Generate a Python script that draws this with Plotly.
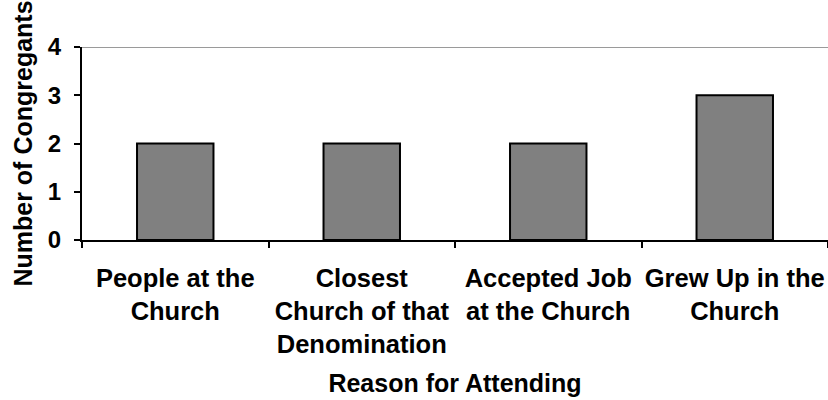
import plotly.graph_objects as go

# Survey responses: why congregants attend
reasons = [
    "People at the<br>Church",
    "Closest<br>Church of that<br>Denomination",
    "Accepted Job<br>at the Church",
    "Grew Up in the<br>Church",
]
congregants = [2, 2, 2, 3]
y_ticks = [0, 1, 2, 3, 4]

FONT = "Liberation Sans, Arial, sans-serif"

fig = go.Figure(
    go.Bar(
        x=reasons,
        y=congregants,
        marker=dict(color="#808080", line=dict(color="#000000", width=2)),
        hoverinfo="skip",
    )
)

fig.update_layout(
    width=828,
    height=400,
    margin=dict(l=82, r=0, t=47, b=160, autoexpand=False),
    paper_bgcolor="white",
    plot_bgcolor="white",
    bargap=0.59,
    showlegend=False,
    font=dict(family=FONT, size=25, color="black"),
)

fig.update_xaxes(
    type="category",
    tickson="boundaries",
    ticks="outside",
    ticklen=6,
    tickwidth=2,
    tickcolor="black",
    showline=True,
    linecolor="black",
    linewidth=2,
    showgrid=False,
    tickangle=0,
    ticklabelstandoff=14,
    tickfont=dict(family=FONT, size=25.5, color="black", weight="bold"),
    title=dict(
        text="<b>Reason for Attending</b>",
        font=dict(family=FONT, size=25, color="black"),
        standoff=18,
    ),
    automargin=False,
)

fig.update_yaxes(
    range=[0, 4],
    tickvals=y_ticks,
    ticks="outside",
    ticklen=6,
    tickwidth=2,
    tickcolor="black",
    showline=True,
    linecolor="black",
    linewidth=2,
    showgrid=False,
    zeroline=False,
    ticklabelstandoff=8,
    tickfont=dict(family=FONT, size=24, color="black", weight="bold"),
    title=dict(
        text="<b>Number of Congregants</b>",
        font=dict(family=FONT, size=25, color="black"),
        standoff=8,
    ),
    automargin=False,
)

# Gray rule across the top of the value axis
fig.add_hline(y=max(y_ticks), line=dict(color="#9a9a9a", width=2), layer="below")

fig.write_html("out.html")
